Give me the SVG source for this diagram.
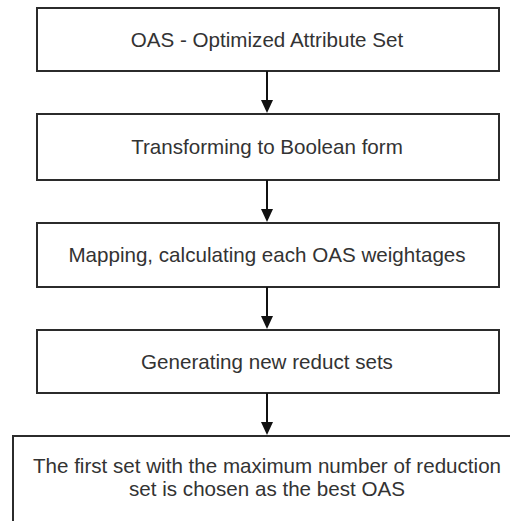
<svg xmlns="http://www.w3.org/2000/svg" width="510" height="521" viewBox="0 0 510 521">
<style>
.box{fill:#fff;stroke:#2b2b2b;stroke-width:2}
.lbl{font-family:"Liberation Sans",Arial,sans-serif;font-size:20.6px;fill:#333;text-anchor:middle}
.conn{stroke:#111;stroke-width:2;fill:none}
.head{fill:#111}
</style>
<rect width="510" height="521" fill="#fff"/>
<g id="n1"><rect class="box" x="37" y="8" width="462" height="63"/><text class="lbl" x="267" y="47">OAS - Optimized Attribute Set</text></g>
<g id="n2"><rect class="box" x="37" y="114" width="462" height="66"/><text class="lbl" x="267" y="153.5">Transforming to Boolean form</text></g>
<g id="n3"><rect class="box" x="37" y="223" width="462" height="64"/><text class="lbl" x="267" y="262">Mapping, calculating each OAS weightages</text></g>
<g id="n4"><rect class="box" x="37" y="330" width="462" height="63"/><text class="lbl" x="267" y="369">Generating new reduct sets</text></g>
<g id="n5"><rect class="box" x="13" y="436" width="520" height="100"/><text class="lbl" x="267" y="473">The first set with the maximum number of reduction</text><text class="lbl" x="267" y="496">set is chosen as the best OAS</text></g>
<g id="connectors">
<line class="conn" x1="267" y1="71" x2="267" y2="101"/><path class="head" d="M261,100 L273,100 L267,113 Z"/>
<line class="conn" x1="267" y1="180" x2="267" y2="210"/><path class="head" d="M261,209 L273,209 L267,222 Z"/>
<line class="conn" x1="267" y1="287" x2="267" y2="317"/><path class="head" d="M261,316 L273,316 L267,329 Z"/>
<line class="conn" x1="267" y1="393" x2="267" y2="423"/><path class="head" d="M261,422 L273,422 L267,435 Z"/>
</g>
</svg>
